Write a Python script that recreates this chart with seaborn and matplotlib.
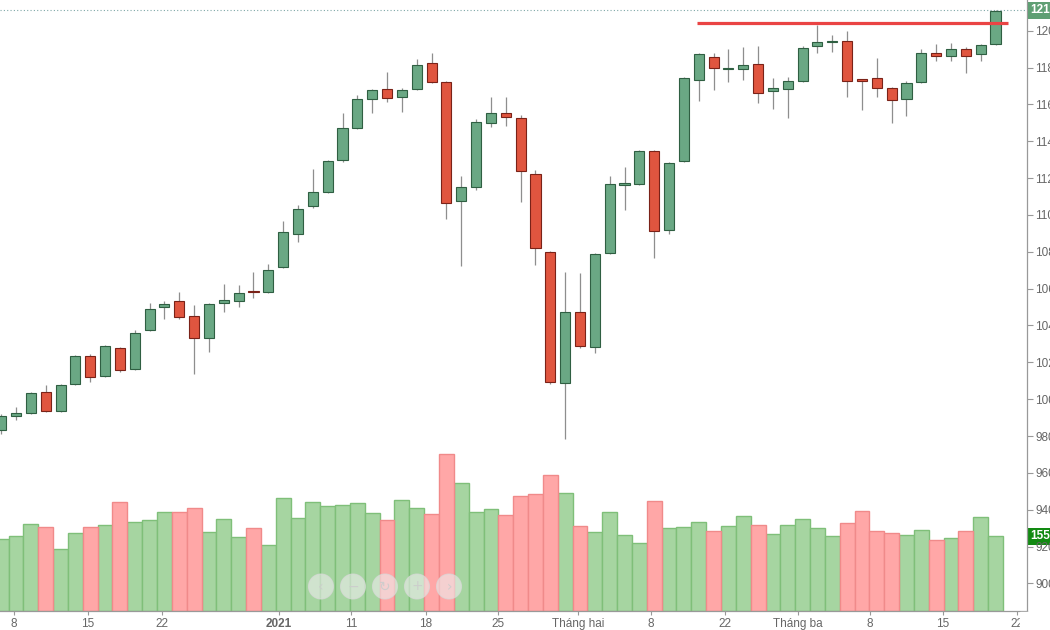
import numpy as np
import pandas as pd
import matplotlib
matplotlib.use("Agg")
import matplotlib.pyplot as plt
import matplotlib.transforms as mtransforms
from matplotlib.patches import Ellipse, Rectangle
import seaborn as sns

# daily sessions (7 Dec 2020 -> 18 Mar 2021)
opens = [983.2, 990.8, 992.6, 1003.7, 993.7, 1008.0, 1023.4, 1012.7, 1027.9, 1016.2,
         1037.4, 1050.2, 1053.1, 1045.1, 1033.0, 1052.3, 1053.4, 1058.5, 1058.0, 1071.6,
         1089.8, 1104.8, 1112.6, 1130.0, 1147.0, 1162.8, 1168.3, 1164.2, 1168.3, 1182.5,
         1172.2, 1107.7, 1115.3, 1149.9, 1155.5, 1152.8, 1122.2, 1080.0, 1008.9, 1047.3,
         1028.4, 1079.5, 1116.3, 1116.8, 1134.5, 1091.8, 1129.3, 1173.2, 1185.6, 1179.0,
         1179.2, 1182.1, 1167.3, 1168.2, 1172.5, 1191.7, 1193.7, 1194.4, 1173.6, 1174.2,
         1168.9, 1162.8, 1172.0, 1187.7, 1186.4, 1190.2, 1187.2, 1192.8]
highs = [992.0, 995.6, 1004.0, 1007.6, 1008.0, 1024.0, 1024.6, 1029.5, 1028.5, 1037.5,
         1052.0, 1053.4, 1058.3, 1050.9, 1052.0, 1062.5, 1062.0, 1068.8, 1073.3, 1096.5,
         1105.5, 1124.9, 1130.0, 1155.5, 1164.9, 1168.5, 1177.4, 1169.0, 1184.6, 1187.7,
         1172.5, 1121.3, 1151.9, 1164.0, 1164.0, 1154.2, 1124.4, 1080.5, 1069.2, 1068.3,
         1079.5, 1121.3, 1125.8, 1135.0, 1135.4, 1129.0, 1175.0, 1188.0, 1187.7, 1189.9,
         1191.0, 1191.7, 1174.2, 1174.7, 1191.9, 1203.1, 1197.7, 1199.8, 1174.0, 1185.0,
         1169.5, 1172.7, 1189.9, 1192.8, 1193.2, 1191.3, 1193.0, 1211.5]
lows = [981.0, 988.7, 992.0, 993.0, 993.2, 1007.5, 1009.1, 1012.0, 1015.0, 1016.0,
        1037.0, 1043.3, 1043.5, 1013.5, 1025.6, 1047.1, 1049.8, 1054.7, 1057.5, 1071.0,
        1085.5, 1104.0, 1112.0, 1129.0, 1146.5, 1155.2, 1161.5, 1155.7, 1168.0, 1171.5,
        1097.8, 1072.4, 1113.5, 1147.6, 1148.3, 1106.8, 1072.8, 1008.2, 978.3, 1028.0,
        1024.9, 1079.0, 1102.7, 1116.0, 1076.8, 1089.5, 1128.5, 1162.0, 1167.8, 1172.0,
        1173.2, 1160.6, 1157.5, 1152.4, 1172.0, 1187.7, 1188.6, 1164.2, 1157.0, 1164.2,
        1149.7, 1153.7, 1171.5, 1183.7, 1183.7, 1176.9, 1183.4, 1192.0]
closes = [991.0, 992.4, 1003.1, 993.7, 1007.6, 1023.4, 1012.2, 1029.0, 1015.8, 1035.7,
          1048.8, 1051.5, 1044.4, 1033.0, 1051.5, 1053.8, 1057.6, 1058.0, 1070.1, 1090.9,
          1103.2, 1112.6, 1129.3, 1147.0, 1162.8, 1167.8, 1163.6, 1168.0, 1181.4, 1172.3,
          1106.3, 1115.3, 1150.3, 1155.3, 1153.1, 1124.0, 1082.2, 1009.4, 1047.3, 1028.8,
          1078.8, 1116.8, 1117.3, 1134.5, 1091.4, 1128.3, 1174.2, 1187.4, 1179.7, 1179.4,
          1181.5, 1166.3, 1168.7, 1172.5, 1190.8, 1193.9, 1194.6, 1172.9, 1172.9, 1168.7,
          1162.2, 1171.4, 1187.7, 1186.4, 1189.9, 1186.4, 1192.4, 1210.7]
volumes = [149, 156, 181, 175, 128, 161, 175, 178, 227, 185,
           189, 205, 205, 213, 163, 190, 154, 173, 137, 234,
           193, 227, 217, 221, 225, 203, 189, 230, 213, 201,
           326, 265, 205, 212, 199, 239, 243, 283, 245, 177,
           163, 205, 157, 141, 229, 173, 175, 185, 167, 176,
           197, 179, 160, 179, 190, 172, 156, 183, 207, 166,
           162, 158, 169, 147, 151, 166, 195, 155]

xtick_pos = [0.86, 5.86, 10.86, 18.73, 23.6, 28.6, 33.46, 38.86, 43.8, 48.8,
             53.66, 58.53, 63.46, 68.46]
xtick_labels = ["8", "15", "22", "2021", "11", "18", "25", "Tháng hai", "8", "22",
                "Tháng ba", "8", "15", "22"]
price_ticks = list(range(900, 1201, 20))

resistance = 1204
resistance_span = (46.9, 67.85)
last_price = 1211
last_volume = 155

sns.set_style("white")
plt.rcParams["font.family"] = ["Liberation Sans", "DejaVu Sans"]

df = pd.DataFrame({"o": opens, "h": highs, "l": lows, "c": closes, "v": volumes})
df["k"] = np.arange(len(df))
df["dir"] = np.where(df["c"] >= df["o"], "up", "down")

fig = plt.figure(figsize=(10.5, 6.3), dpi=100)
ax = fig.add_axes([0, 19 / 630, 1027 / 1050, 611 / 630])
axv = ax.twinx()
ax.set_zorder(2)
ax.patch.set_visible(False)

# volume bars underneath
sns.barplot(data=df, x="k", y="v", hue="dir", hue_order=["up", "down"],
            palette={"up": "#a6d5a1", "down": "#ffa7a7"}, dodge=False, width=1.0,
            native_scale=True, errorbar=None, legend=False, saturation=1,
            linewidth=1, ax=axv)
for p in axv.patches:
    r, g, b, a = p.get_facecolor()
    p.set_edgecolor("#7fbf79" if g > r else "#f08a8a")
axv.set_ylim(0, 1268)
axv.set_yticks([])
axv.set_ylabel("")
for s in axv.spines.values():
    s.set_visible(False)

# candles
body_lo = np.minimum(df["o"], df["c"])
body_h = np.maximum((df["c"] - df["o"]).abs(), 0.8)
ax.vlines(df["k"], df["l"], df["h"], color="#8e8e8e", lw=0.9, zorder=1)
up = df["dir"] == "up"
ax.bar(df["k"][up], body_h[up], bottom=body_lo[up], width=0.68,
       color="#6aa884", edgecolor="#2f5f42", lw=0.8, zorder=2)
ax.bar(df["k"][~up], body_h[~up], bottom=body_lo[~up], width=0.68,
       color="#e0553f", edgecolor="#7a2218", lw=0.8, zorder=2)

ax.hlines(resistance, *resistance_span, color="#ea4444", lw=2.3, zorder=3)
ax.axhline(last_price, color="#7fa7a7", lw=0.8, ls=(0, (1, 2)), zorder=0)

ax.set_xlim(-0.08, 69.12)
ax.set_ylim(885, 1216.7)
ax.set_xlabel("")
ax.yaxis.tick_right()
ax.set_yticks(price_ticks, [str(t) for t in price_ticks])
ax.set_xticks(xtick_pos, xtick_labels)
for t in ax.get_xticklabels():
    if t.get_text() == "2021":
        t.set_fontweight("bold")
        t.set_color("#444444")
ax.tick_params(axis="x", length=3, color="#999999", labelsize=8.5,
               labelcolor="#666666", pad=2, bottom=True)
ax.tick_params(axis="y", length=4, color="#999999", labelsize=8.5,
               labelcolor="#666666", pad=2, right=True, left=False)
for side in ["top", "left"]:
    ax.spines[side].set_visible(False)
for side in ["right", "bottom"]:
    ax.spines[side].set_color("#999999")
    ax.spines[side].set_linewidth(0.9)

# value tags on the price axis
tr = mtransforms.blended_transform_factory(ax.transAxes, ax.transData)
ax.text(1.003, last_price, str(last_price), transform=tr, va="center", ha="left",
        color="white", fontsize=8.5, fontweight="bold", clip_on=False,
        bbox=dict(boxstyle="square,pad=0.2", fc="#5f9f74", ec="none"))
trv = mtransforms.blended_transform_factory(axv.transAxes, axv.transData)
axv.text(1.003, last_volume, str(last_volume), transform=trv, va="center", ha="left",
         color="white", fontsize=8.5, fontweight="bold", clip_on=False, zorder=5,
         bbox=dict(boxstyle="square,pad=0.2", fc="#128a12", ec="none"))

# last tick label is cut by the price scale panel
fig.add_artist(Rectangle((1020 / 1050, 0), 30 / 1050, 18 / 630,
                         transform=fig.transFigure, color="white", zorder=10))

# navigation buttons overlay
for cx, sym in zip([321, 353, 385, 417, 449], ["‹", "−", "↻", "+", "›"]):
    fig.add_artist(Ellipse((cx / 1050, (630 - 586.5) / 630), 25 / 1050, 25 / 630,
                           transform=fig.transFigure, fc=(0.93, 0.93, 0.93, 0.6),
                           ec=(0.85, 0.85, 0.85, 0.7), lw=0.8, zorder=11))
    fig.text(cx / 1050, (630 - 586.5) / 630, sym, ha="center", va="center",
             fontsize=10, color=(0.8, 0.8, 0.8, 0.9), zorder=12,
             family=["DejaVu Sans"])

fig.savefig("out.png", dpi=100)
